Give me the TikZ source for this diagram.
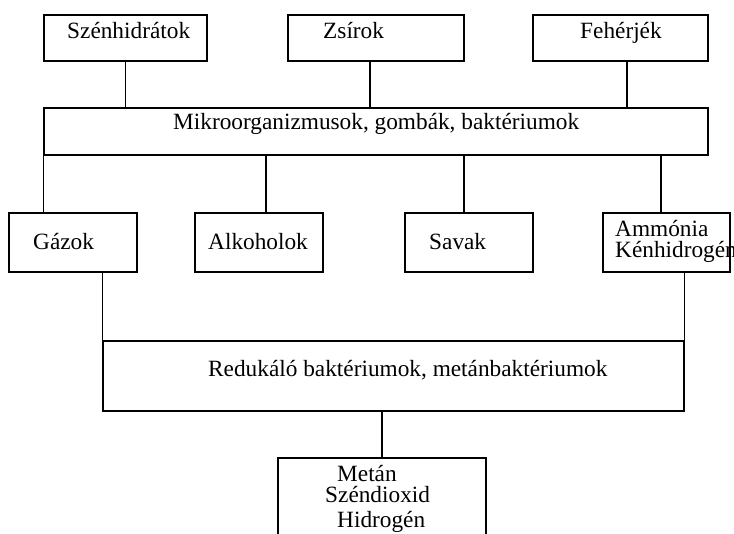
\documentclass[tikz,border=0pt]{standalone}
\usepackage{fontspec}
\setmainfont{Liberation Serif}
\begin{document}
\begin{tikzpicture}[x=1pt,y=-1pt,
  box/.style={draw, line width=1.3pt, inner sep=0pt},
  txt/.style={anchor=base west, inner sep=0pt, font=\fontsize{23.3}{21}\selectfont},
  conn/.style={line width=1.3pt}]
\useasboundingbox (0,0) rectangle (734,534);
\clip (0,0) rectangle (734,534);
% boxes
\node[box, minimum width=163pt, minimum height=46pt] (szen) at (125.5,38) {};
\node[box, minimum width=176pt, minimum height=46pt] (zsir) at (376,38) {};
\node[box, minimum width=175pt, minimum height=46pt] (feh) at (620.5,38) {};
\node[box, minimum width=664pt, minimum height=47pt] (mikro) at (376,131.5) {};
\node[box, minimum width=128pt, minimum height=59pt] (gaz) at (73,242.5) {};
\node[box, minimum width=128pt, minimum height=59pt] (alk) at (259,242.5) {};
\node[box, minimum width=128pt, minimum height=59pt] (sav) at (469,242.5) {};
\node[box, minimum width=127pt, minimum height=59pt] (amm) at (666.5,242.5) {};
\node[box, minimum width=581pt, minimum height=70pt] (reduk) at (393.5,376) {};
\node[box, minimum width=208pt, minimum height=102pt] (metan) at (382,509) {};
% texts
\node[txt] (t1) at (67,39) {Szénhidrátok};
\node[txt] (t2) at (323,39) {Zsírok};
\node[txt] (t3) at (580,39) {Fehérjék};
\node[txt] (t4) at (173,130) {Mikroorganizmusok, gombák, baktériumok};
\node[txt] (t5) at (33,250) {Gázok};
\node[txt] (t6) at (208,250) {Alkoholok};
\node[txt] (t7) at (429,250) {Savak};
\node[txt] (t8) at (615,237) {Ammónia};
\node[txt] (t9) at (615,258) {Kénhidrogén};
\node[txt] (t10) at (208,377) {Redukáló baktériumok, metánbaktériumok};
\node[txt] (t11) at (337,482) {Metán};
\node[txt] (t12) at (325,503) {Széndioxid};
\node[txt] (t13) at (337,527) {Hidrogén};
% connectors
\draw[conn] (szen.south) -- (szen.south |- mikro.north);
\draw[conn] ([xshift=-6pt]zsir.south) -- ([xshift=-6pt]zsir.south |- mikro.north);
\draw[conn] ([xshift=6.5pt]feh.south) -- ([xshift=6.5pt]feh.south |- mikro.north);
\draw[conn] (mikro.south west) -- (mikro.south west |- gaz.north);
\draw[conn] ([xshift=7pt]alk.north) -- ([xshift=7pt]alk.north |- mikro.south);
\draw[conn] ([xshift=-5pt]sav.north) -- ([xshift=-5pt]sav.north |- mikro.south);
\draw[conn] ([xshift=-5.5pt]amm.north) -- ([xshift=-5.5pt]amm.north |- mikro.south);
\draw[conn] (reduk.north west |- gaz.south) -- (reduk.north west);
\draw[conn] (reduk.north east |- amm.south) -- (reduk.north east);
\draw[conn] (metan.north) -- (metan.north |- reduk.south);
\end{tikzpicture}
\end{document}
